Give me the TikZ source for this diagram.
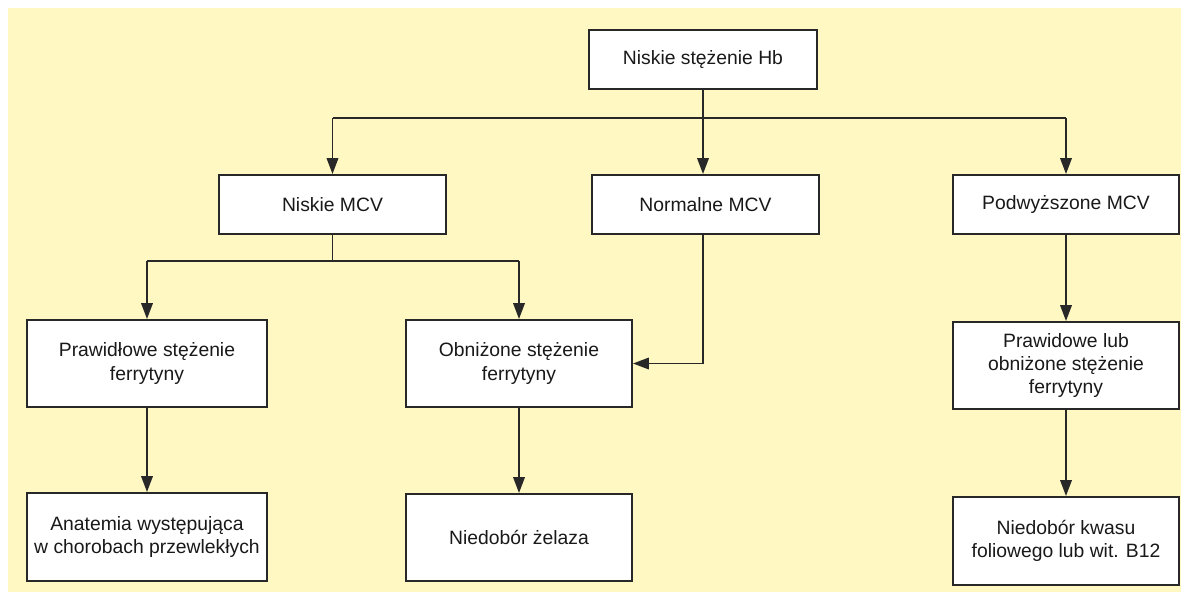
\documentclass[tikz,border=0pt]{standalone}
\usepackage{fontspec}
\setmainfont{Liberation Sans}
\usetikzlibrary{arrows.meta}
\definecolor{bgyellow}{RGB}{255,248,194}
\definecolor{linegray}{RGB}{40,40,40}
\tikzset{
  box/.style={draw=linegray, fill=white, line width=1.1pt, align=center, inner sep=0pt,
    font=\fontsize{11}{13.2}\selectfont, text=black!90},
  conn/.style={draw=linegray, line width=1.1pt},
  arr/.style={conn, -{Triangle[length=9pt,width=6.5pt]}},
}
\begin{document}
\begin{tikzpicture}[x=0.02cm,y=-0.02cm]
\useasboundingbox (0,0) rectangle (1188,600);
\fill[bgyellow] (8,8) rectangle (1181,592);
\node[box, minimum width=228*0.02cm, minimum height=59*0.02cm] (hb) at (703,59.5) {Niskie stężenie Hb};
\node[box, minimum width=227*0.02cm, minimum height=59*0.02cm] (nmcv) at (332.5,204.5) {Niskie MCV};
\node[box, minimum width=227*0.02cm, minimum height=59*0.02cm] (normcv) at (705.5,204.5) {Normalne MCV};
\node[box, minimum width=226*0.02cm, minimum height=59*0.02cm] (pmcv) at (1066,204.5) {Podwyższone MCV};
\node[box, minimum width=240*0.02cm, minimum height=87*0.02cm] (pf) at (147,363.5) {Prawidłowe stężenie\\ferrytyny};
\node[box, minimum width=226*0.02cm, minimum height=87*0.02cm] (of) at (519,363.5) {Obniżone stężenie\\ferrytyny};
\node[box, minimum width=226*0.02cm, minimum height=87*0.02cm] (plf) at (1066,365.5) {Prawidowe lub\\obniżone stężenie\\ferrytyny};
\node[box, minimum width=240*0.02cm, minimum height=88*0.02cm] (ach) at (147,537) {Anatemia występująca\\w chorobach przewlekłych};
\node[box, minimum width=226*0.02cm, minimum height=87*0.02cm] (nz) at (519,537.5) {Niedobór żelaza};
\node[box, minimum width=226*0.02cm, minimum height=88*0.02cm] (nk) at (1066,541) {Niedobór kwasu\\foliowego lub wit. B12};
\coordinate (j1) at (703,118);
\coordinate (j2) at (332.5,261);
% top level
\draw[conn] (hb.south) -- (j1);
\draw[conn] (nmcv.north |- j1) -- (pmcv.north |- j1);
\draw[arr] (nmcv.north |- j1) -- (nmcv.north);
\draw[arr] (j1) -- (j1 |- normcv.north);
\draw[arr] (pmcv.north |- j1) -- (pmcv.north);
% niskie MCV branch
\draw[conn] (nmcv.south) -- (j2);
\draw[conn] (pf.north |- j2) -- (of.north |- j2);
\draw[arr] (pf.north |- j2) -- (pf.north);
\draw[arr] (of.north |- j2) -- (of.north);
% normalne MCV
\draw[arr] (j1 |- normcv.south) |- (of.east);
% podwyzszone
\draw[arr] (pmcv.south) -- (plf.north);
\draw[arr] (plf.south) -- (nk.north);
% lower
\draw[arr] (pf.south) -- (ach.north);
\draw[arr] (of.south) -- (nz.north);
\end{tikzpicture}
\end{document}
